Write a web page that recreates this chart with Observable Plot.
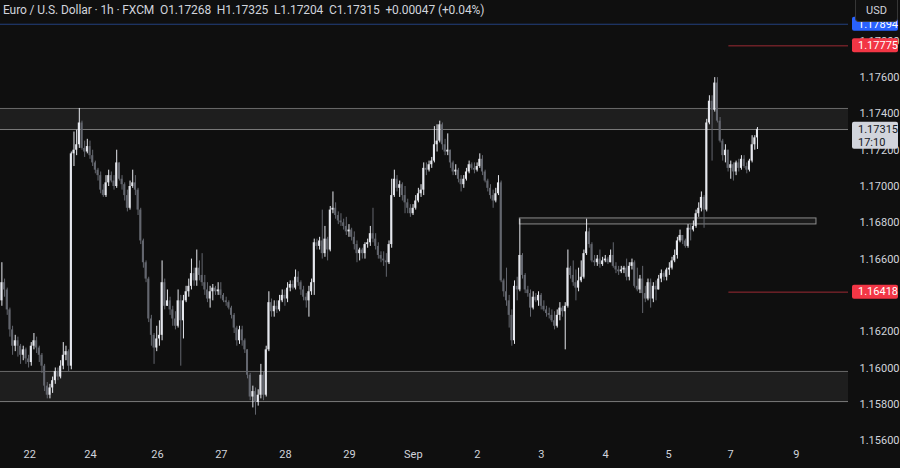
<!DOCTYPE html>
<html><head><meta charset="utf-8">
<script src="https://cdn.jsdelivr.net/npm/d3@7"></script>
<script src="https://cdn.jsdelivr.net/npm/@observablehq/plot@0.6"></script>
<style>
html,body{margin:0;padding:0;background:#0f0f0f;}
#wrap{position:relative;width:900px;height:468px;overflow:hidden;font-family:Roboto,"Liberation Sans",sans-serif;}
#hdr{position:absolute;left:3px;top:3px;font-size:12px;color:#d1d4dc;white-space:pre;letter-spacing:-0.1px;}
#usd{position:absolute;left:855px;top:0px;width:43px;height:22px;border:1px solid #363636;border-top:none;border-radius:0 0 4px 4px;background:#111;color:#d1d4dc;font-size:11px;text-align:center;line-height:21px;box-sizing:border-box;}
</style></head>
<body><div id="wrap"><div id="hdr"></div><div id="usd">USD</div></div>
<script>
const title = "Euro / U.S. Dollar · 1h · FXCM  O1.17268  H1.17325  L1.17204  C1.17315  +0.00047 (+0.04%)";
const firstOpen = 1.1637;
const close = [
1.1647,1.1643,1.1632,1.1621,1.1612,1.1615,1.1612,1.1607,1.1610,1.1605,
1.1603,1.1612,1.1615,1.1611,1.1607,1.1601,1.1590,1.1585,1.1589,1.1593,
1.1598,1.1595,1.1601,1.1607,1.1609,1.1601,1.1718,1.1720,1.1723,1.1735,
1.1721,1.1719,1.1722,1.1717,1.1713,1.1709,1.1706,1.1698,1.1695,1.1702,
1.1706,1.1703,1.1700,1.1713,1.1704,1.1701,1.1695,1.1688,1.1700,1.1702,
1.1698,1.1687,1.1670,1.1658,1.1649,1.1627,1.1618,1.1611,1.1616,1.1618,
1.1647,1.1634,1.1637,1.1632,1.1627,1.1623,1.1637,1.1626,1.1637,1.1642,
1.1645,1.1652,1.1648,1.1655,1.1651,1.1647,1.1643,1.1638,1.1642,1.1644,
1.1642,1.1643,1.1640,1.1637,1.1636,1.1633,1.1629,1.1622,1.1615,1.1621,
1.1615,1.1610,1.1596,1.1584,1.1587,1.1581,1.1585,1.1596,1.1585,1.1610,
1.1636,1.1631,1.1634,1.1632,1.1637,1.1640,1.1638,1.1644,1.1646,1.1644,
1.1650,1.1647,1.1643,1.1639,1.1637,1.1642,1.1647,1.1669,1.1667,1.1670,
1.1663,1.1671,1.1665,1.1687,1.1688,1.1684,1.1681,1.1680,1.1678,1.1675,
1.1676,1.1672,1.1668,1.1663,1.1665,1.1663,1.1668,1.1669,1.1674,1.1671,
1.1667,1.1662,1.1660,1.1659,1.1658,1.1668,1.1695,1.1704,1.1699,1.1701,
1.1695,1.1691,1.1688,1.1685,1.1688,1.1692,1.1696,1.1698,1.1710,1.1709,
1.1712,1.1714,1.1723,1.1725,1.1734,1.1723,1.1719,1.1720,1.1713,1.1708,
1.1709,1.1704,1.1701,1.1704,1.1708,1.1712,1.1710,1.1709,1.1711,1.1715,
1.1708,1.1703,1.1699,1.1695,1.1692,1.1696,1.1702,1.1648,1.1642,1.1637,
1.1629,1.1615,1.1645,1.1643,1.1662,1.1651,1.1643,1.1641,1.1633,1.1639,
1.1637,1.1640,1.1634,1.1632,1.1630,1.1629,1.1626,1.1623,1.1629,1.1633,
1.1631,1.1634,1.1655,1.1651,1.1647,1.1644,1.1648,1.1650,1.1663,1.1675,
1.1668,1.1659,1.1658,1.1660,1.1657,1.1659,1.1660,1.1658,1.1662,1.1656,
1.1654,1.1653,1.1654,1.1655,1.1650,1.1656,1.1658,1.1645,1.1643,1.1649,
1.1641,1.1638,1.1647,1.1638,1.1645,1.1643,1.1649,1.1652,1.1650,1.1654,
1.1655,1.1659,1.1662,1.1670,1.1673,1.1670,1.1667,1.1677,1.1676,1.1678,
1.1685,1.1688,1.1694,1.1687,1.1735,1.1747,1.1742,1.1757,1.1736,1.1725,
1.1717,1.1720,1.1710,1.1712,1.1708,1.1713,1.1710,1.1715,1.1711,1.1709,
1.1714,1.1723,1.17268,1.17315];
const high = [
1.1658,1.1649,1.1644,1.1633,1.1623,1.1618,1.1617,1.1613,1.1612,1.1611,
1.1607,1.1614,1.1619,1.1617,1.1612,1.1608,1.1602,1.1592,1.1591,1.1595,
1.1600,1.1600,1.1604,1.1614,1.1612,1.1610,1.1719,1.1730,1.1731,1.1743,
1.1736,1.1725,1.1726,1.1725,1.1720,1.1714,1.1710,1.1708,1.1701,1.1706,
1.1709,1.1708,1.1706,1.1720,1.1711,1.1706,1.1702,1.1698,1.1703,1.1709,
1.1706,1.1699,1.1688,1.1671,1.1659,1.1650,1.1629,1.1619,1.1623,1.1626,
1.1659,1.1649,1.1643,1.1639,1.1634,1.1631,1.1643,1.1640,1.1640,1.1645,
1.1649,1.1660,1.1655,1.1665,1.1659,1.1663,1.1651,1.1647,1.1645,1.1646,
1.1645,1.1647,1.1647,1.1641,1.1639,1.1637,1.1634,1.1630,1.1623,1.1623,
1.1623,1.1616,1.1610,1.1597,1.1590,1.1589,1.1588,1.1602,1.1598,1.1612,
1.1642,1.1638,1.1637,1.1637,1.1640,1.1643,1.1643,1.1647,1.1648,1.1648,
1.1654,1.1653,1.1648,1.1645,1.1641,1.1645,1.1649,1.1671,1.1671,1.1672,
1.1687,1.1678,1.1672,1.1689,1.1697,1.1691,1.1686,1.1685,1.1682,1.1683,
1.1679,1.1677,1.1675,1.1670,1.1666,1.1666,1.1669,1.1671,1.1678,1.1688,
1.1674,1.1669,1.1664,1.1664,1.1663,1.1670,1.1704,1.1709,1.1706,1.1703,
1.1702,1.1700,1.1693,1.1690,1.1690,1.1695,1.1699,1.1701,1.1713,1.1713,
1.1714,1.1716,1.1733,1.1734,1.1736,1.1735,1.1726,1.1729,1.1720,1.1714,
1.1712,1.1710,1.1706,1.1706,1.1710,1.1714,1.1713,1.1713,1.1713,1.1718,
1.1717,1.1709,1.1704,1.1701,1.1698,1.1699,1.1706,1.1703,1.1649,1.1655,
1.1640,1.1632,1.1648,1.1650,1.1682,1.1663,1.1652,1.1645,1.1643,1.1642,
1.1641,1.1642,1.1641,1.1637,1.1634,1.1633,1.1632,1.1631,1.1632,1.1636,
1.1634,1.1636,1.1665,1.1656,1.1659,1.1654,1.1655,1.1659,1.1665,1.1682,
1.1677,1.1669,1.1662,1.1662,1.1665,1.1661,1.1662,1.1661,1.1665,1.1669,
1.1658,1.1656,1.1656,1.1656,1.1660,1.1658,1.1660,1.1659,1.1655,1.1651,
1.1656,1.1645,1.1649,1.1649,1.1647,1.1648,1.1651,1.1654,1.1653,1.1655,
1.1658,1.1661,1.1665,1.1672,1.1676,1.1672,1.1671,1.1679,1.1679,1.1681,
1.1687,1.1691,1.1697,1.1695,1.1737,1.1750,1.1750,1.1760,1.1760,1.1738,
1.1726,1.1723,1.1720,1.1714,1.1713,1.1714,1.1715,1.1717,1.1717,1.1713,
1.1715,1.1728,1.1728,1.17325];
const low = [
1.1634,1.1639,1.1629,1.1617,1.1607,1.1609,1.1606,1.1602,1.1604,1.1602,
1.1600,1.1601,1.1610,1.1608,1.1603,1.1597,1.1587,1.1583,1.1583,1.1586,
1.1591,1.1593,1.1594,1.1599,1.1604,1.1598,1.1599,1.1711,1.1717,1.1721,
1.1720,1.1716,1.1718,1.1715,1.1711,1.1707,1.1703,1.1696,1.1694,1.1694,
1.1700,1.1702,1.1698,1.1699,1.1703,1.1698,1.1692,1.1686,1.1687,1.1699,
1.1695,1.1684,1.1668,1.1655,1.1647,1.1625,1.1612,1.1602,1.1609,1.1612,
1.1615,1.1632,1.1634,1.1629,1.1623,1.1621,1.1622,1.1601,1.1616,1.1636,
1.1639,1.1643,1.1645,1.1645,1.1648,1.1645,1.1640,1.1636,1.1633,1.1637,
1.1640,1.1640,1.1638,1.1636,1.1634,1.1632,1.1627,1.1619,1.1612,1.1613,
1.1612,1.1608,1.1594,1.1582,1.1578,1.1574,1.1579,1.1583,1.1582,1.1584,
1.1609,1.1628,1.1628,1.1630,1.1631,1.1636,1.1634,1.1636,1.1642,1.1643,
1.1643,1.1645,1.1640,1.1637,1.1633,1.1628,1.1640,1.1640,1.1665,1.1665,
1.1660,1.1661,1.1659,1.1664,1.1685,1.1682,1.1679,1.1678,1.1676,1.1673,
1.1672,1.1670,1.1665,1.1658,1.1659,1.1660,1.1660,1.1666,1.1667,1.1669,
1.1665,1.1660,1.1658,1.1656,1.1650,1.1657,1.1666,1.1694,1.1697,1.1694,
1.1692,1.1685,1.1685,1.1683,1.1684,1.1687,1.1691,1.1694,1.1695,1.1706,
1.1708,1.1710,1.1713,1.1719,1.1724,1.1720,1.1717,1.1717,1.1710,1.1706,
1.1706,1.1702,1.1697,1.1699,1.1703,1.1707,1.1709,1.1707,1.1708,1.1710,
1.1706,1.1702,1.1697,1.1693,1.1688,1.1691,1.1695,1.1647,1.1639,1.1634,
1.1622,1.1612,1.1613,1.1637,1.1642,1.1649,1.1641,1.1639,1.1628,1.1632,
1.1636,1.1634,1.1632,1.1631,1.1628,1.1627,1.1625,1.1621,1.1622,1.1626,
1.1628,1.1610,1.1633,1.1649,1.1645,1.1637,1.1642,1.1647,1.1649,1.1662,
1.1666,1.1658,1.1656,1.1656,1.1655,1.1656,1.1658,1.1657,1.1658,1.1655,
1.1652,1.1651,1.1652,1.1652,1.1648,1.1648,1.1654,1.1644,1.1642,1.1641,
1.1630,1.1636,1.1637,1.1633,1.1636,1.1637,1.1643,1.1647,1.1648,1.1648,
1.1651,1.1654,1.1658,1.1660,1.1669,1.1668,1.1666,1.1666,1.1670,1.1675,
1.1677,1.1683,1.1686,1.1677,1.1686,1.1734,1.1714,1.1741,1.1735,1.1724,
1.1714,1.1713,1.1708,1.1704,1.1703,1.1706,1.1708,1.1709,1.1710,1.1707,
1.1708,1.1713,1.1720,1.17204];
const yTicks = [1.156,1.158,1.160,1.162,1.166,1.168,1.170,1.172,1.174,1.176,1.178];
const xTickIdx = [10.4,33.2,58.3,82.2,106.2,130.2,154.1,178.1,202.1,226.1,249.7,272.9,297.6];
const xTickText = ["22","24","26","27","28","29","Sep","2","3","4","5","7","9"];
const zones = [{lo:1.17314, hi:1.17430},{lo:1.15815, hi:1.15981}];
const boxZone = {i1:194, i2:305.1, lo:1.16791, hi:1.16824};
const redLevels = [1.17775, 1.16418];
const redStartIdx = 272.3;
const blueLevel = 1.17894;
const lastPrice = 1.17315;
const countdown = "17:10";
const xDomain = [-0.52, 317.1];
const yDomain = [1.155564, 1.180249];

const bull = "#e6e8ee", bear = "#63666e";
const candles = close.map((c,i)=>{
  const o = i ? close[i-1] : firstOpen;
  return {i, o, c, h: Math.max(high[i], o, c), l: Math.min(low[i], o, c)};
});
const col = d => d.c >= d.o ? bull : bear;
const ticksX = xTickIdx.map((x,k)=>({x, t:xTickText[k]}));

const chart = Plot.plot({
  width: 900, height: 468,
  marginLeft: 0, marginRight: 52, marginTop: 0, marginBottom: 20,
  style: {background:"#0f0f0f", color:"#d1d4dc", fontFamily:"Roboto, 'Liberation Sans', sans-serif", fontSize:"11px"},
  x: {domain: xDomain, axis: null},
  y: {domain: yDomain, axis: null},
  marks: [
    Plot.rect(zones, {y1:"lo", y2:"hi", fill:"#1e1e1e"}),
    Plot.ruleY(zones, {y:"lo", stroke:"#7a7a7a", strokeWidth:1}),
    Plot.ruleY(zones, {y:"hi", stroke:"#6a6a6a", strokeWidth:1}),
    Plot.ruleY([blueLevel], {stroke:"#23407f", strokeWidth:1}),
    Plot.ruleY(redLevels, {x1: redStartIdx, x2: xDomain[1], stroke:"#9c2a33", strokeWidth:1}),
    Plot.rect([boxZone], {x1:"i1", x2:"i2", y1:"lo", y2:"hi", fill:"#1b1b1b", stroke:"#8c8c8c", strokeWidth:1}),
    Plot.ruleX(candles, {x:"i", y1:"l", y2:"h", stroke: col, strokeWidth:1}),
    Plot.rect(candles, {x1: d=>d.i-0.38, x2: d=>d.i+0.38, y1:"o", y2:"c", fill: col}),
    Plot.axisY({anchor:"right", ticks: yTicks, tickSize:0, tickPadding:11, tickFormat: d=>d.toFixed(5), fontSize:11}),
    Plot.text(ticksX, {x:"x", text:"t", frameAnchor:"bottom", dy:9, fontSize:11, fontWeight: d=> d.t==="Sep" ? "bold" : "normal", fill:"#d1d4dc"})
  ]
});
document.getElementById("wrap").insertBefore(chart, document.getElementById("hdr"));
chart.style.position = "absolute"; chart.style.left = "0"; chart.style.top = "0";
document.getElementById("hdr").textContent = title;

const ys = chart.scale("y");
const svg = d3.select(chart);
const axX = 900 - 52;
function label(price, bg, fg, h, lines, top) {
  const yc = ys.apply(price);
  const g = svg.append("g").attr("text-anchor", "start");
  const y0 = top ? yc - 7 : yc - h/2;
  g.append("rect").attr("x", axX+4).attr("y", y0).attr("width", 46).attr("height", h).attr("rx", 2).attr("fill", bg);
  lines.forEach((t,k)=>{
    g.append("text").attr("x", axX+10).attr("y", y0 + 7 + k*13).attr("dy","0.35em")
      .attr("text-anchor","start").attr("fill", fg).attr("font-size", 11)
      .attr("font-family","Roboto, 'Liberation Sans', sans-serif").text(t);
  });
}
label(blueLevel, "#2962ff", "#ffffff", 14, [blueLevel.toFixed(5)], false);
redLevels.forEach(p => label(p, "#f23645", "#ffffff", 14, [p.toFixed(5)], false));
label(lastPrice, "#d1d4dc", "#131722", 27, [lastPrice.toFixed(5), countdown], true);
</script>
</body></html>
